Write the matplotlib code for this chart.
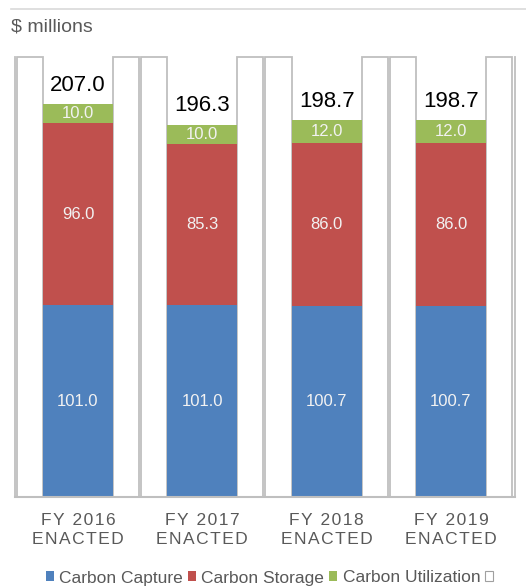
import matplotlib
matplotlib.use("Agg")
import matplotlib.pyplot as plt
from matplotlib.patches import Patch
from matplotlib.lines import Line2D

plt.rcParams['font.family'] = ['Liberation Sans', 'DejaVu Sans']

years = ["FY 2016", "FY 2017", "FY 2018", "FY 2019"]
status = ["ENACTED", "ENACTED", "ENACTED", "ENACTED"]
capture = [101.0, 101.0, 100.7, 100.7]
storage = [96.0, 85.3, 86.0, 86.0]
utilization = [10.0, 10.0, 12.0, 12.0]
totals = [207.0, 196.3, 198.7, 198.7]
series_names = ["Carbon Capture", "Carbon Storage", "Carbon Utilization", ""]

BLUE = "#4f81bd"
RED = "#c0504d"
GREEN = "#9bbb59"
GRID = "#bfbfbf"
TEXT = "#595959"

W, H, DPI = 526, 586, 100
fig = plt.figure(figsize=(W / DPI, H / DPI), dpi=DPI)


def spaced(s):
    # small letter spacing like the original category labels
    return "\u200a".join(s)


# axes placed in pixel terms: y=0 at 497px, x from 15px to 515px
ytop = 232.2
px_per_unit = 1.897
bottom_px = 497
top_px = bottom_px - ytop * px_per_unit
left_px, right_px = 15, 515
ax = fig.add_axes([left_px / W, (H - bottom_px) / H, (right_px - left_px) / W,
                   (bottom_px - top_px) / H])

slot_px = 124.3
center0_px = 78
ax.set_xlim((left_px - center0_px) / slot_px, (right_px - center0_px) / slot_px)
ax.set_ylim(0, ytop)

bw = 70 / slot_px      # coloured bar width
sw = 0.21              # side box width
x = list(range(len(years)))

# white outlined boxes on both sides of each bar
for i in x:
    for side in (-1, 1):
        ax.bar(i + side * (bw / 2 + sw / 2), ytop, width=sw, color="white",
               edgecolor=GRID, linewidth=1.3, zorder=1, clip_on=False)

bottom2 = [a + b for a, b in zip(capture, storage)]
ax.bar(x, capture, width=bw, color=BLUE, zorder=2)
ax.bar(x, storage, width=bw, bottom=capture, color=RED, zorder=2)
ax.bar(x, utilization, width=bw, bottom=bottom2, color=GREEN, zorder=2)

for i in x:
    ax.text(i, capture[i] / 2, f"{capture[i]:.1f}", ha="center", va="center",
            color="#f2f2f2", fontsize=12, zorder=3)
    ax.text(i, capture[i] + storage[i] / 2, f"{storage[i]:.1f}", ha="center",
            va="center", color="#f2f2f2", fontsize=12, zorder=3)
    ax.text(i, bottom2[i] + utilization[i] / 2, f"{utilization[i]:.1f}",
            ha="center", va="center", color="#f2f2f2", fontsize=12, zorder=3)
    ax.annotate(f"{totals[i]:.1f}", (i, bottom2[i] + utilization[i]),
                xytext=(0, 13.7), textcoords="offset points", ha="center",
                va="center", fontsize=16, color="black", zorder=3)
    ax.annotate(spaced(years[i]) + "\n" + spaced(status[i]), (i, 0),
                xycoords=("data", "axes fraction"),
                xytext=(0, -16 / 1.389), textcoords="offset points", ha="center",
                va="top", fontsize=12.5, color=TEXT, linespacing=1.3)

ax.spines["top"].set_visible(False)
for s in ("left", "right"):
    ax.spines[s].set_color(GRID)
    ax.spines[s].set_linewidth(1.3)
ax.spines["bottom"].set_color(GRID)
ax.spines["bottom"].set_linewidth(1.5)
ax.set_xticks([])
ax.set_yticks([])

# top rule and unit label
fig.add_artist(Line2D([11 / W, 1], [1 - 9 / H, 1 - 9 / H], color="#d9d9d9", linewidth=1.2))
fig.text(11 / W, 1 - 27 / H, "$ millions", ha="left", va="center", fontsize=14, color=TEXT)

handles = [Patch(facecolor=BLUE), Patch(facecolor=RED), Patch(facecolor=GREEN),
           Patch(facecolor="white", edgecolor="#a0a0a0", linewidth=0.8)]
fig.legend(handles, series_names, loc="center", bbox_to_anchor=(272 / W, 1 - 578 / H),
           ncol=4, frameon=False, fontsize=12.5, labelcolor=TEXT,
           handlelength=0.5, handleheight=0.5, handletextpad=0.3, columnspacing=0.25,
           borderpad=0)

fig.savefig("out.png", dpi=DPI)
